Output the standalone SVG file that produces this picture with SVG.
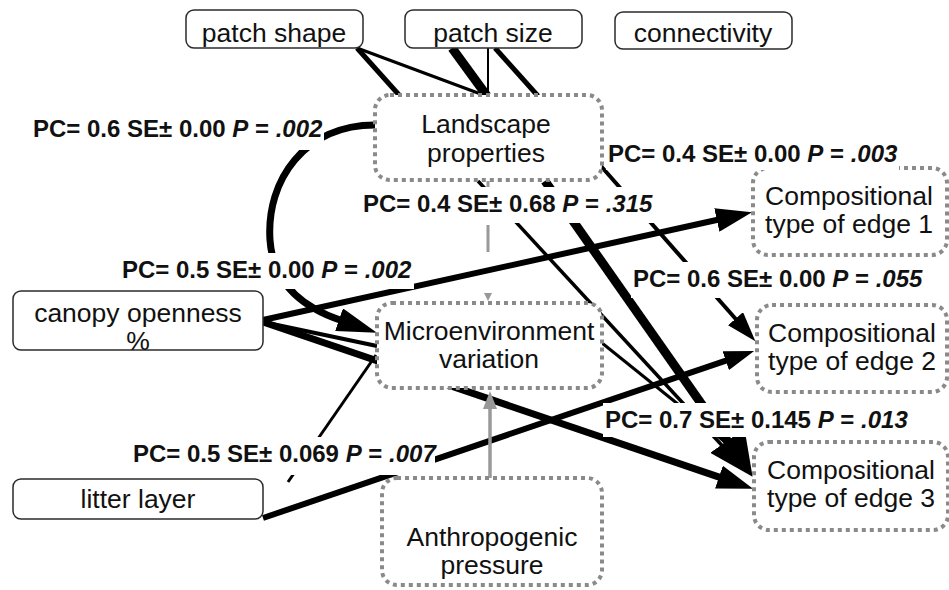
<svg xmlns="http://www.w3.org/2000/svg" width="949" height="590" viewBox="0 0 949 590">
<defs>
<style>
.box{fill:#fff;stroke:#2b2b2b;stroke-width:1.5}
.dot{fill:#fff;stroke:#8a8a8a;stroke-width:4;stroke-dasharray:4 4}
.nt{font-family:"Liberation Sans",Arial,sans-serif;font-size:26.5px;fill:#111;text-anchor:middle}
.lb{font-family:"Liberation Sans",Arial,sans-serif;font-size:24px;font-weight:bold;fill:#111}
.it{font-style:italic}
.bg{fill:#fff}
.k{stroke:#000;fill:none}
.g{stroke:#999;fill:none}
</style>
<marker id="ah36" markerUnits="userSpaceOnUse" viewBox="0 -12 36 24" refX="1" refY="0" markerWidth="36" markerHeight="24" orient="auto"><path d="M0,-12 L36,0 L0,12 z" fill="#000"/></marker>
<marker id="ah30" markerUnits="userSpaceOnUse" viewBox="0 -10 30 20" refX="1" refY="0" markerWidth="30" markerHeight="20" orient="auto"><path d="M0,-10 L30,0 L0,10 z" fill="#000"/></marker>
<marker id="ah40" markerUnits="userSpaceOnUse" viewBox="0 -12 40 24" refX="1" refY="0" markerWidth="40" markerHeight="24" orient="auto"><path d="M0,-12 L40,0 L0,12 z" fill="#000"/></marker>
<marker id="ah44" markerUnits="userSpaceOnUse" viewBox="0 -21 44 42" refX="1" refY="0" markerWidth="44" markerHeight="42" orient="auto"><path d="M0,-21 L44,0 L0,21 z" fill="#000"/></marker>
<marker id="ahg" markerUnits="userSpaceOnUse" viewBox="0 -7 18 14" refX="1" refY="0" markerWidth="18" markerHeight="14" orient="auto"><path d="M0,-7 L18,0 L0,7 z" fill="#999"/></marker>
<marker id="ahgs" markerUnits="userSpaceOnUse" viewBox="0 -4 8 8" refX="1" refY="0" markerWidth="8" markerHeight="8" orient="auto"><path d="M0,-4 L8,0 L0,4 z" fill="#999"/></marker>
</defs>

<rect width="949" height="590" fill="#fff"/>

<g id="connectors">
  <!-- patch attributes into landscape properties -->
  <line class="k" x1="357" y1="48" x2="400" y2="96" stroke-width="5"/>
  <line class="k" x1="357" y1="48" x2="486" y2="96" stroke-width="3"/>
  <line class="k" x1="452" y1="48" x2="487" y2="96" stroke-width="9"/>
  <line class="k" x1="488" y1="48" x2="488" y2="96" stroke-width="2"/>
  <line class="k" x1="495" y1="48" x2="538" y2="96" stroke-width="5"/>
  <!-- landscape properties -> microenvironment (curved) -->
  <path class="k" d="M375,125 C305,125 266,180 270,240 C273,285 305,308 340,320" stroke-width="7" marker-end="url(#ah40)"/>
  <!-- landscape properties -> microenvironment (not significant) -->
  <line class="g" x1="488" y1="181" x2="488" y2="294" stroke-width="3" stroke-dasharray="9 35 27 45" marker-end="url(#ahgs)"/>
  <!-- landscape properties -> edge types -->
  <line class="k" x1="600" y1="165" x2="736.2" y2="319.5" stroke-width="4" marker-end="url(#ah30)"/>
  <line class="k" x1="478" y1="181" x2="740" y2="465" stroke-width="3.5"/>
  <line class="k" x1="545" y1="181" x2="727.9" y2="441.6" stroke-width="9" marker-end="url(#ah44)"/>
  <!-- microenvironment -> edge type 3 -->
  <line class="k" x1="602" y1="343" x2="735" y2="450" stroke-width="3"/>
  <!-- canopy openness -->
  <line class="k" x1="263" y1="320" x2="717.8" y2="219.7" stroke-width="6" marker-end="url(#ah36)"/>
  <line class="k" x1="263" y1="322" x2="377" y2="346" stroke-width="4"/>
  <line class="k" x1="263" y1="322" x2="719.9" y2="477.4" stroke-width="7" marker-end="url(#ah36)"/>
  <!-- litter layer -->
  <line class="k" x1="288" y1="482" x2="376" y2="355" stroke-width="3"/>
  <line class="k" x1="263" y1="518" x2="726.7" y2="360.3" stroke-width="6" marker-end="url(#ah30)"/>
  <!-- anthropogenic pressure -> microenvironment -->
  <line class="g" x1="490" y1="478" x2="490" y2="408" stroke-width="3.5" marker-end="url(#ahg)"/>
</g>

<g id="patch-shape">
  <rect class="box" x="186" y="10" width="177" height="38" rx="8"/>
  <text class="nt" x="274" y="42">patch shape</text>
</g>
<g id="patch-size">
  <rect class="box" x="405" y="10" width="177" height="38" rx="8"/>
  <text class="nt" x="493" y="42">patch size</text>
</g>
<g id="connectivity">
  <rect class="box" x="615" y="12" width="177" height="37" rx="8"/>
  <text class="nt" x="703" y="42">connectivity</text>
</g>
<g id="landscape-properties">
  <rect class="dot" x="375" y="95" width="227" height="85" rx="15"/>
  <text class="nt" x="486" y="133">Landscape</text>
  <text class="nt" x="486" y="162">properties</text>
</g>
<g id="canopy-openness">
  <rect class="box" x="13" y="291" width="250" height="59" rx="8"/>
  <text class="nt" x="138" y="322">canopy openness</text>
  <text class="nt" x="138" y="350">%</text>
</g>
<g id="microenvironment-variation">
  <rect class="dot" x="377" y="303" width="225" height="85" rx="15"/>
  <text class="nt" x="489" y="340">Microenvironment</text>
  <text class="nt" x="489" y="368">variation</text>
</g>
<g id="litter-layer">
  <rect class="box" x="13" y="479" width="250" height="40" rx="8"/>
  <text class="nt" x="138" y="508">litter layer</text>
</g>
<g id="anthropogenic-pressure">
  <rect class="dot" x="382" y="478" width="220" height="107" rx="15"/>
  <text class="nt" x="492" y="546">Anthropogenic</text>
  <text class="nt" x="492" y="574">pressure</text>
</g>
<g id="edge-type-1">
  <rect class="dot" x="753" y="168" width="194" height="87" rx="15"/>
  <text class="nt" x="849" y="205">Compositional</text>
  <text class="nt" x="849" y="233">type of edge 1</text>
</g>
<g id="edge-type-2">
  <rect class="dot" x="757" y="305" width="190" height="87" rx="15"/>
  <text class="nt" x="852" y="342">Compositional</text>
  <text class="nt" x="852" y="370">type of edge 2</text>
</g>
<g id="edge-type-3">
  <rect class="dot" x="754" y="442" width="194" height="88" rx="15"/>
  <text class="nt" x="851" y="479">Compositional</text>
  <text class="nt" x="851" y="507">type of edge 3</text>
</g>

<g id="path-coefficients">
  <rect class="bg" x="31" y="112" width="293" height="38"/>
  <text class="lb" x="33" y="137">PC= 0.6 SE± 0.00 <tspan class="it">P</tspan> = <tspan class="it">.002</tspan></text>
  <rect class="bg" x="606" y="137" width="293" height="33"/>
  <text class="lb" x="608" y="162">PC= 0.4 SE± 0.00 <tspan class="it">P</tspan> = <tspan class="it">.003</tspan></text>
  <rect class="bg" x="361" y="187" width="293" height="36"/>
  <text class="lb" x="363" y="212">PC= 0.4 SE± 0.68 <tspan class="it">P</tspan> = <tspan class="it">.315</tspan></text>
  <rect class="bg" x="120" y="253" width="294" height="36"/>
  <text class="lb" x="122" y="278">PC= 0.5 SE± 0.00 <tspan class="it">P</tspan> = <tspan class="it">.002</tspan></text>
  <rect class="bg" x="631" y="262" width="293" height="36"/>
  <text class="lb" x="633" y="287">PC= 0.6 SE± 0.00 <tspan class="it">P</tspan> = <tspan class="it">.055</tspan></text>
  <rect class="bg" x="131" y="437" width="304" height="38"/>
  <text class="lb" x="133" y="462">PC= 0.5 SE± 0.069 <tspan class="it">P</tspan> = <tspan class="it">.007</tspan></text>
  <rect class="bg" x="603" y="403" width="308" height="34"/>
  <text class="lb" x="605" y="428">PC= 0.7 SE± 0.145 <tspan class="it">P</tspan> = <tspan class="it">.013</tspan></text>
</g>
</svg>
